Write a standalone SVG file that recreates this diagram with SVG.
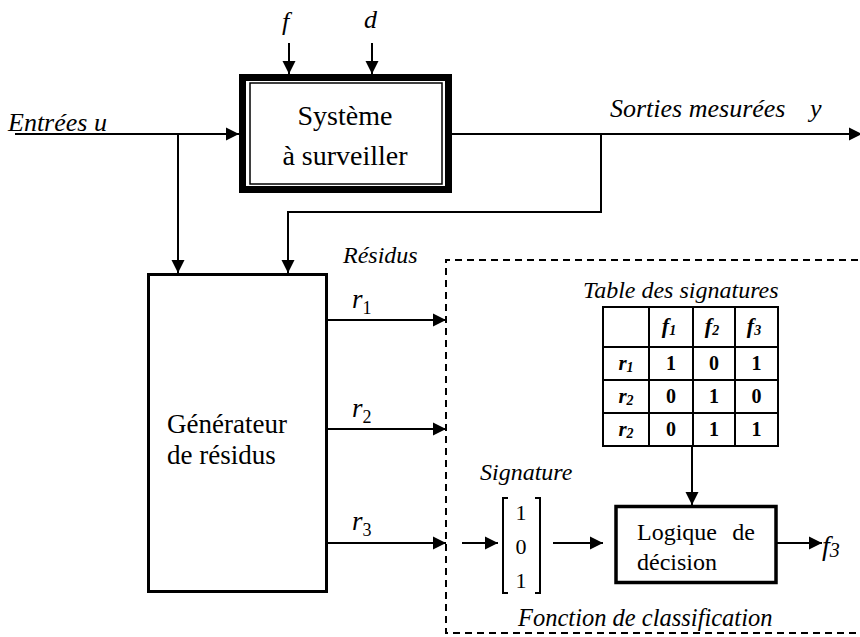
<svg xmlns="http://www.w3.org/2000/svg" width="860" height="637" viewBox="0 0 860 637">
  <style>
    text { font-family: "Liberation Serif", "Times New Roman", serif; fill: #000; }
    .it { font-style: italic; }
    .bd { font-weight: bold; }
    .ln { fill: none; stroke: #000; stroke-width: 2; }
    .arr { fill: none; stroke: #000; stroke-width: 2; marker-end: url(#ah); }
    .cell { fill: none; stroke: #000; stroke-width: 2; }
  </style>
  <defs>
    <marker id="ah" markerUnits="userSpaceOnUse" markerWidth="14" markerHeight="14" viewBox="0 0 14 14" refX="13" refY="7" orient="auto">
      <path d="M0,0.5 L13,7 L0,13.5 z" fill="#000"/>
    </marker>
  </defs>
  <rect width="860" height="637" fill="#fff"/>

  <!-- connectors -->
  <g id="connectors">
    <!-- fault and disturbance inputs -->
    <line class="arr" x1="289" y1="43" x2="289" y2="74"/>
    <line class="arr" x1="372" y1="43" x2="372" y2="74"/>
    <!-- inputs u -->
    <line class="arr" x1="15" y1="134" x2="239" y2="134"/>
    <polyline class="arr" points="178,134 178,273"/>
    <!-- measured outputs y -->
    <line class="arr" x1="452" y1="134" x2="862" y2="134"/>
    <polyline class="arr" points="601,134 601,212 288,212 288,273"/>
    <!-- residuals -->
    <line class="arr" x1="327" y1="320" x2="446" y2="320"/>
    <line class="arr" x1="327" y1="429" x2="446" y2="429"/>
    <line class="arr" x1="327" y1="543" x2="446" y2="543"/>
    <!-- signature path -->
    <line class="arr" x1="462" y1="543" x2="498" y2="543"/>
    <line class="arr" x1="553" y1="543" x2="603" y2="543"/>
    <line class="arr" x1="692" y1="446" x2="692" y2="505"/>
    <line class="arr" x1="777" y1="543" x2="822" y2="543"/>
  </g>

  <!-- plant -->
  <g id="systeme">
    <rect x="242.5" y="77.5" width="206" height="112" fill="#fff" stroke="#000" stroke-width="7"/>
    <rect x="250" y="83" width="192" height="101" fill="none" stroke="#000" stroke-width="1.5"/>
    <text x="345" y="125" font-size="28" text-anchor="middle">Système</text>
    <text x="345" y="165" font-size="28" text-anchor="middle">à surveiller</text>
  </g>

  <g id="labels-top">
    <text class="it" x="282" y="30" font-size="26">f</text>
    <text class="it" x="364" y="28" font-size="26">d</text>
    <text class="it" x="8" y="131" font-size="26">Entrées u</text>
    <text class="it" x="610" y="117" font-size="26">Sorties mesurées</text>
    <text class="it" x="810" y="117" font-size="26">y</text>
  </g>

  <!-- residual generator -->
  <g id="generateur">
    <rect x="148.5" y="274.5" width="178" height="317" fill="none" stroke="#000" stroke-width="3"/>
    <text x="167" y="433" font-size="27">Générateur</text>
    <text x="167" y="464" font-size="27">de résidus</text>
  </g>

  <g id="residus">
    <text class="it" x="343" y="263" font-size="24">Résidus</text>
    <text class="it" x="352" y="308" font-size="27">r<tspan font-style="normal" font-size="18" dy="6">1</tspan></text>
    <text class="it" x="352" y="417" font-size="27">r<tspan font-style="normal" font-size="18" dy="6">2</tspan></text>
    <text class="it" x="352" y="530" font-size="27">r<tspan font-style="normal" font-size="18" dy="6">3</tspan></text>
  </g>

  <!-- classification function boundary -->
  <g id="classification">
    <path d="M870,260 L446,260 L446,633 L870,633" fill="none" stroke="#000" stroke-width="2" stroke-dasharray="7,5"/>
    <text class="it" x="518" y="626" font-size="24.5">Fonction de classification</text>
  </g>

  <!-- signature table -->
  <g id="table">
    <text class="it" x="583" y="298" font-size="24">Table des signatures</text>
    <rect class="cell" x="603" y="307" width="175" height="139"/>
    <line class="cell" x1="649" y1="307" x2="649" y2="446"/>
    <line class="cell" x1="693" y1="307" x2="693" y2="446"/>
    <line class="cell" x1="735" y1="307" x2="735" y2="446"/>
    <line class="cell" x1="603" y1="347" x2="778" y2="347"/>
    <line class="cell" x1="603" y1="380" x2="778" y2="380"/>
    <line class="cell" x1="603" y1="413" x2="778" y2="413"/>
    <g class="bd" font-size="20" text-anchor="middle">
      <text class="it" x="669" y="333" font-size="22">f<tspan font-size="14" dy="2">1</tspan></text>
      <text class="it" x="712" y="333" font-size="22">f<tspan font-size="14" dy="2">2</tspan></text>
      <text class="it" x="754" y="333" font-size="22">f<tspan font-size="14" dy="2">3</tspan></text>
      <text class="it" x="626" y="370" font-size="21">r<tspan font-size="14" dy="2">1</tspan></text>
      <text class="it" x="626" y="403" font-size="21">r<tspan font-size="14" dy="2">2</tspan></text>
      <text class="it" x="626" y="436" font-size="21">r<tspan font-size="14" dy="2">2</tspan></text>
      <text x="671" y="370">1</text><text x="714" y="370">0</text><text x="756.5" y="370">1</text>
      <text x="671" y="403">0</text><text x="714" y="403">1</text><text x="756.5" y="403">0</text>
      <text x="671" y="436">0</text><text x="714" y="436">1</text><text x="756.5" y="436">1</text>
    </g>
  </g>

  <!-- signature vector -->
  <g id="signature">
    <text class="it" x="480" y="480" font-size="24">Signature</text>
    <path d="M508,498 L503,498 L503,593 L508,593" class="ln" stroke-width="1.5"/>
    <path d="M535,498 L540,498 L540,593 L535,593" class="ln" stroke-width="1.5"/>
    <g font-size="22" text-anchor="middle">
      <text x="521" y="520">1</text>
      <text x="521" y="554">0</text>
      <text x="521" y="588">1</text>
    </g>
  </g>

  <!-- decision logic -->
  <g id="logique">
    <rect x="616" y="506.5" width="160" height="76" fill="none" stroke="#000" stroke-width="3.5"/>
    <text x="637" y="540" font-size="24">Logique</text>
    <text x="755" y="540" font-size="24" text-anchor="end">de</text>
    <text x="637" y="570" font-size="24">décision</text>
  </g>

  <g id="sortie">
    <text class="it" x="822" y="555" font-size="28">f<tspan font-size="20" dy="2">3</tspan></text>
  </g>
</svg>
